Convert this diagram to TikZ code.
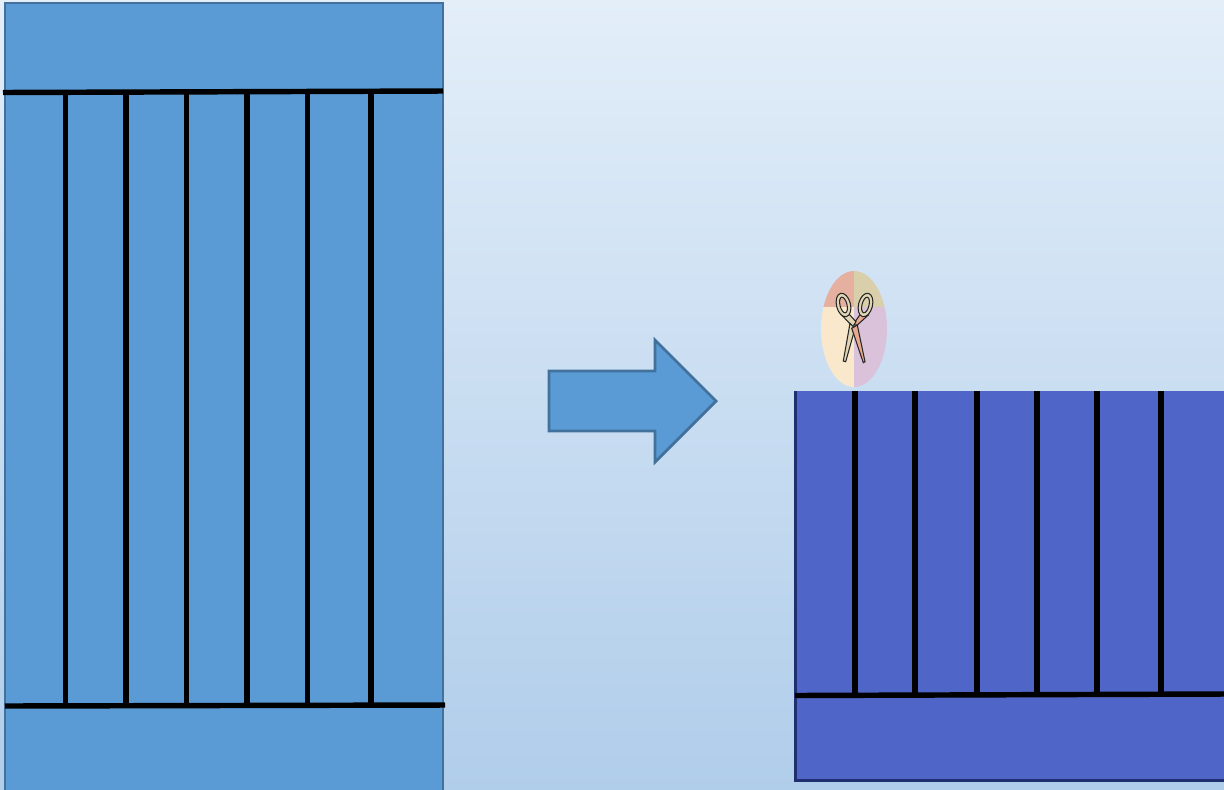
\documentclass[tikz,border=0pt]{standalone}
\usetikzlibrary{calc}
\definecolor{skytop}{HTML}{E3EEF9}
\definecolor{skybottom}{HTML}{B0CDEA}
\definecolor{panelblue}{HTML}{5B9BD5}
\definecolor{paneledge}{HTML}{41719C}
\definecolor{cutblue}{HTML}{4F66C8}
\definecolor{cutedge}{HTML}{1F2F70}
\definecolor{ovalred}{HTML}{E5B09F}
\definecolor{ovalolive}{HTML}{D9CFAB}
\definecolor{ovalcream}{HTML}{FAE8CC}
\definecolor{ovalmauve}{HTML}{D9C2DA}
\definecolor{bladetan}{HTML}{E0D6B4}
\definecolor{bladepink}{HTML}{E9A98F}

\begin{document}
\begin{tikzpicture}[
    x=0.02cm,
    y=-0.02cm,
    line join=miter,
    slatline/.style={line width=3.1pt, black},
    scissorline/.style={line width=0.6pt, draw=black!85}
]

    % Canvas is measured in pixels of the reference, y downwards
    \useasboundingbox (0,0) rectangle (1224,789);
    \shade[top color=skytop, bottom color=skybottom] (0,0) rectangle (1224,789);

    % 1. Full panel (left)
    \begin{scope}
        \clip (0,0) rectangle (1224,789);
        \fill[panelblue, draw=paneledge, line width=1.6pt] (5,3) rectangle (443,795);
    \end{scope}
    \draw[slatline] (3,92.5) -- (443,91);
    \draw[slatline] (5,706) -- (445,705);
    \foreach \x in {65.5, 126, 186.5, 247, 307.5, 371} {
        \draw[slatline] (\x,92) -- (\x,705);
    }

    % 2. Block arrow
    \fill[panelblue, draw=paneledge, line width=1.6pt] (549,371) -- (655,371) -- (655,340)
        -- (716,401) -- (655,462) -- (655,431) -- (549,431) -- cycle;

    % 3. Cut panel (right)
    \fill[cutblue] (795,391) rectangle (1224,780);
    \draw[cutedge, line width=1.7pt] (795,391) -- (795,780) -- (1224,780);
    \draw[slatline] (795,695.5) -- (1224,694);
    \foreach \x in {855, 915, 977, 1037, 1097, 1161} {
        \draw[slatline] (\x,391) -- (\x,695);
    }

    % 4. Oval behind the scissors
    \begin{scope}
        \clip (854,329) ellipse [x radius=33, y radius=58];
        \fill[ovalred] (815,265) rectangle (854,306.7);
        \fill[ovalolive] (854,265) rectangle (895,306.7);
        \fill[ovalcream] (815,306.7) rectangle (854,392);
        \fill[ovalmauve] (854,306.7) rectangle (895,392);
    \end{scope}

    % 5. Scissors
    % Necks first, then the two blades
    \filldraw[fill=bladepink, scissorline] (861,313.3) -- (868.3,315) -- (857.3,325)
        -- (852.7,325) -- cycle;
    \filldraw[fill=bladetan, scissorline] (841.7,315) -- (848.3,313.3) -- (856,321.7)
        -- (852.7,326.7) -- cycle;
    \filldraw[fill=bladetan, scissorline] (843.3,361) -- (845.7,361.7) -- (855,328.3)
        -- (850,323.3) -- cycle;
    \filldraw[fill=bladepink, scissorline] (863.3,362.7) -- (865,361.7) -- (857.3,325)
        -- (851.7,328.3) -- cycle;
    % Finger loops
    \filldraw[fill=bladetan, scissorline, even odd rule, rotate around={14:(843.5,305)}]
        (843.5,305) ellipse [x radius=7, y radius=12]
        (843.5,305) ellipse [x radius=3.5, y radius=8];
    \filldraw[fill=bladetan, scissorline, even odd rule, rotate around={-14:(865.5,305)}]
        (865.5,305) ellipse [x radius=7, y radius=12]
        (865.5,305) ellipse [x radius=3.5, y radius=8];
    \fill[black!70] (853.5,325.5) circle [radius=0.8];

\end{tikzpicture}
\end{document}
